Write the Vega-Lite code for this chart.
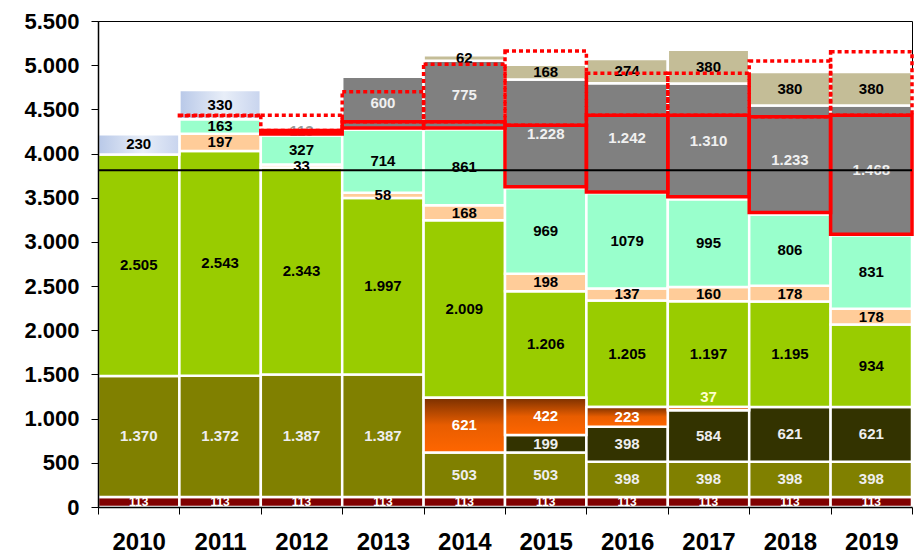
{
  "$schema": "https://vega.github.io/schema/vega-lite/v6.json",
  "width": 814,
  "height": 486,
  "autosize": {"type": "none"},
  "padding": {"left": 98, "top": 21, "right": 6, "bottom": 47},
  "background": "white",
  "config": {"view": {"stroke": "#000000", "strokeWidth": 1}, "font": "Liberation Sans"},
  "datasets": {
    "seg": [
      {"year": "2010", "series": "s01", "value": 113, "label": "113"},
      {"year": "2010", "series": "s02", "value": 1370, "label": "1.370"},
      {"year": "2010", "series": "s05", "value": 2505, "label": "2.505"},
      {"year": "2010", "series": "s08", "value": 230, "label": "230"},
      {"year": "2011", "series": "s01", "value": 113, "label": "113"},
      {"year": "2011", "series": "s02", "value": 1372, "label": "1.372"},
      {"year": "2011", "series": "s05", "value": 2543, "label": "2.543"},
      {"year": "2011", "series": "s06", "value": 197, "label": "197"},
      {"year": "2011", "series": "s07", "value": 163, "label": "163"},
      {"year": "2011", "series": "s08", "value": 330, "label": "330"},
      {"year": "2012", "series": "s01", "value": 113, "label": "113"},
      {"year": "2012", "series": "s02", "value": 1387, "label": "1.387"},
      {"year": "2012", "series": "s05", "value": 2343, "label": "2.343"},
      {"year": "2012", "series": "s06", "value": 33, "label": "33"},
      {"year": "2012", "series": "s07", "value": 327, "label": "327"},
      {"year": "2012", "series": "s09", "value": 113, "label": "113"},
      {"year": "2013", "series": "s01", "value": 113, "label": "113"},
      {"year": "2013", "series": "s02", "value": 1387, "label": "1.387"},
      {"year": "2013", "series": "s05", "value": 1997, "label": "1.997"},
      {"year": "2013", "series": "s06", "value": 58, "label": "58"},
      {"year": "2013", "series": "s07", "value": 714, "label": "714"},
      {"year": "2013", "series": "s10", "value": 600, "label": "600"},
      {"year": "2014", "series": "s01", "value": 113, "label": "113"},
      {"year": "2014", "series": "s02", "value": 503, "label": "503"},
      {"year": "2014", "series": "s04", "value": 621, "label": "621"},
      {"year": "2014", "series": "s05", "value": 2009, "label": "2.009"},
      {"year": "2014", "series": "s06", "value": 168, "label": "168"},
      {"year": "2014", "series": "s07", "value": 861, "label": "861"},
      {"year": "2014", "series": "s10", "value": 775, "label": "775"},
      {"year": "2014", "series": "s11", "value": 62, "label": "62"},
      {"year": "2015", "series": "s01", "value": 113, "label": "113"},
      {"year": "2015", "series": "s02", "value": 503, "label": "503"},
      {"year": "2015", "series": "s03", "value": 199, "label": "199"},
      {"year": "2015", "series": "s04", "value": 422, "label": "422"},
      {"year": "2015", "series": "s05", "value": 1206, "label": "1.206"},
      {"year": "2015", "series": "s06", "value": 198, "label": "198"},
      {"year": "2015", "series": "s07", "value": 969, "label": "969"},
      {"year": "2015", "series": "s10", "value": 1228, "label": "1.228"},
      {"year": "2015", "series": "s11", "value": 168, "label": "168"},
      {"year": "2016", "series": "s01", "value": 113, "label": "113"},
      {"year": "2016", "series": "s02", "value": 398, "label": "398"},
      {"year": "2016", "series": "s03", "value": 398, "label": "398"},
      {"year": "2016", "series": "s04", "value": 223, "label": "223"},
      {"year": "2016", "series": "s05", "value": 1205, "label": "1.205"},
      {"year": "2016", "series": "s06", "value": 137, "label": "137"},
      {"year": "2016", "series": "s07", "value": 1079, "label": "1079"},
      {"year": "2016", "series": "s10", "value": 1242, "label": "1.242"},
      {"year": "2016", "series": "s11", "value": 274, "label": "274"},
      {"year": "2017", "series": "s01", "value": 113, "label": "113"},
      {"year": "2017", "series": "s02", "value": 398, "label": "398"},
      {"year": "2017", "series": "s03", "value": 584, "label": "584"},
      {"year": "2017", "series": "s04", "value": 37, "label": "37"},
      {"year": "2017", "series": "s05", "value": 1197, "label": "1.197"},
      {"year": "2017", "series": "s06", "value": 160, "label": "160"},
      {"year": "2017", "series": "s07", "value": 995, "label": "995"},
      {"year": "2017", "series": "s10", "value": 1310, "label": "1.310"},
      {"year": "2017", "series": "s11", "value": 380, "label": "380"},
      {"year": "2018", "series": "s01", "value": 113, "label": "113"},
      {"year": "2018", "series": "s02", "value": 398, "label": "398"},
      {"year": "2018", "series": "s03", "value": 621, "label": "621"},
      {"year": "2018", "series": "s05", "value": 1195, "label": "1.195"},
      {"year": "2018", "series": "s06", "value": 178, "label": "178"},
      {"year": "2018", "series": "s07", "value": 806, "label": "806"},
      {"year": "2018", "series": "s10", "value": 1233, "label": "1.233"},
      {"year": "2018", "series": "s11", "value": 380, "label": "380"},
      {"year": "2019", "series": "s01", "value": 113, "label": "113"},
      {"year": "2019", "series": "s02", "value": 398, "label": "398"},
      {"year": "2019", "series": "s03", "value": 621, "label": "621"},
      {"year": "2019", "series": "s05", "value": 934, "label": "934"},
      {"year": "2019", "series": "s06", "value": 178, "label": "178"},
      {"year": "2019", "series": "s07", "value": 831, "label": "831"},
      {"year": "2019", "series": "s10", "value": 1468, "label": "1.468"},
      {"year": "2019", "series": "s11", "value": 380, "label": "380"}
    ],
    "box": [
      {"year": "2011", "kind": "dotted", "lo": 4428, "hi": 4433},
      {"year": "2012", "kind": "dotted", "lo": 4262, "hi": 4433},
      {"year": "2013", "kind": "dotted", "lo": 4360, "hi": 4700},
      {"year": "2014", "kind": "dotted", "lo": 4360, "hi": 5010},
      {"year": "2015", "kind": "dotted", "lo": 4320, "hi": 5160},
      {"year": "2016", "kind": "dotted", "lo": 4433, "hi": 4908},
      {"year": "2017", "kind": "dotted", "lo": 4433, "hi": 4908},
      {"year": "2018", "kind": "dotted", "lo": 4417, "hi": 5047},
      {"year": "2019", "kind": "dotted", "lo": 4433, "hi": 5153},
      {"year": "2012", "kind": "solid", "lo": 4222, "hi": 4262},
      {"year": "2013", "kind": "solid", "lo": 4290, "hi": 4360},
      {"year": "2014", "kind": "solid", "lo": 4290, "hi": 4360},
      {"year": "2015", "kind": "solid", "lo": 3625, "hi": 4320},
      {"year": "2016", "kind": "solid", "lo": 3565, "hi": 4433},
      {"year": "2017", "kind": "solid", "lo": 3512, "hi": 4433},
      {"year": "2018", "kind": "solid", "lo": 3333, "hi": 4417},
      {"year": "2019", "kind": "solid", "lo": 3087, "hi": 4433}
    ],
    "ref": [{"level": 3810, "year": "2010"}]
  },
  "encoding": {
    "x": {
      "field": "year", "type": "ordinal",
      "scale": {"paddingInner": 0, "paddingOuter": 0},
      "axis": {
        "orient": "bottom", "zindex": 1, "tickBand": "extent", "title": null, "grid": false,
        "labelAngle": 0, "labelFont": "Liberation Sans", "labelFontWeight": "bold", "labelFontSize": 24,
        "labelColor": "#000000", "labelPadding": 16,
        "domainColor": "#000000", "domainWidth": 1.5, "tickColor": "#000000", "tickSize": 7, "tickWidth": 1
      }
    }
  },
  "layer": [
    {
      "data": {"name": "seg"},
      "transform": [
        {"stack": "value", "groupby": ["year"], "sort": [{"field": "series", "order": "ascending"}], "as": ["y0", "y1"]},
        {"calculate": "(datum.y0 + datum.y1) / 2", "as": "mid"}
      ],
      "layer": [
        {
          "transform": [{"filter": "datum.series != 's04' && datum.series != 's08'"}],
          "mark": {"type": "bar", "stroke": "#ffffff", "strokeWidth": 2.5},
          "encoding": {
            "y": {
              "field": "y0", "type": "quantitative",
              "scale": {"domain": [0, 5500], "nice": false},
              "axis": {
                "orient": "right", "grid": true, "gridColor": "#cccccc", "gridWidth": 1,
                "labels": false, "ticks": false, "domain": false, "title": null,
                "values": [500, 1000, 1500, 2000, 2500, 3000, 3500, 4000, 4500, 5000]
              }
            },
            "y2": {"field": "y1"},
            "fill": {
              "field": "series", "type": "nominal", "legend": null,
              "scale": {
                "domain": ["s01", "s02", "s03", "s05", "s06", "s07", "s09", "s10", "s11"],
                "range": ["#800000", "#808000", "#333300", "#99cc00", "#ffcc99", "#99ffcc", "#ffffff", "#808080", "#c4bd97"]
              }
            }
          }
        },
        {
          "transform": [{"filter": "datum.series == 's04'"}],
          "mark": {
            "type": "bar", "stroke": "#ffffff", "strokeWidth": 2.5,
            "fill": {"gradient": "linear", "x1": 0, "y1": 0, "x2": 0, "y2": 1,
              "stops": [{"offset": 0, "color": "#7a3000"}, {"offset": 0.5, "color": "#e85d00"}, {"offset": 1, "color": "#ff6600"}]}
          },
          "encoding": {
            "y": {"field": "y0", "type": "quantitative", "axis": null},
            "y2": {"field": "y1"}
          }
        },
        {
          "transform": [{"filter": "datum.series == 's08'"}],
          "mark": {
            "type": "bar", "stroke": "#ffffff", "strokeWidth": 2.5,
            "fill": {"gradient": "linear", "x1": 0, "y1": 0, "x2": 1, "y2": 0,
              "stops": [{"offset": 0, "color": "#b8c8e8"}, {"offset": 0.55, "color": "#e8eef8"}, {"offset": 1, "color": "#c8d4ee"}]}
          },
          "encoding": {
            "y": {"field": "y0", "type": "quantitative", "axis": null},
            "y2": {"field": "y1"}
          }
        },
        {
          "transform": [{"filter": "datum.series != 's01' && !(datum.series == 's04' && datum.value < 50)"}],
          "mark": {"type": "text", "font": "Liberation Sans", "fontWeight": "bold", "fontSize": 15, "baseline": "middle"},
          "encoding": {
            "y": {"field": "mid", "type": "quantitative", "axis": null},
            "text": {"field": "label"},
            "color": {
              "field": "series", "type": "nominal", "legend": null,
              "scale": {
                "domain": ["s02", "s03", "s04", "s05", "s06", "s07", "s08", "s09", "s10", "s11"],
                "range": ["#eeeeee", "#eeeeee", "#ffffff", "#000000", "#000000", "#000000", "#000000", "#9a9a9a", "#f0f0f0", "#000000"]
              }
            }
          }
        },
        {
          "transform": [{"filter": "datum.series == 's01'"}],
          "mark": {"type": "text", "font": "Liberation Sans", "fontWeight": "bold", "fontSize": 12, "baseline": "middle", "color": "#ffffff"},
          "encoding": {
            "y": {"field": "mid", "type": "quantitative", "axis": null},
            "text": {"field": "label"}
          }
        },
        {
          "transform": [{"filter": "datum.series == 's04' && datum.value < 50"}],
          "mark": {"type": "text", "font": "Liberation Sans", "fontWeight": "bold", "fontSize": 15, "baseline": "middle", "dy": -12, "color": "#ffffcc"},
          "encoding": {
            "y": {"field": "mid", "type": "quantitative", "axis": null},
            "text": {"field": "label"}
          }
        }
      ]
    },
    {
      "data": {"name": "box"},
      "transform": [{"filter": "datum.kind == 'dotted'"}],
      "mark": {"type": "bar", "fillOpacity": 0, "stroke": "#ff0000", "strokeWidth": 3.5, "strokeDash": [4, 3]},
      "encoding": {
        "y": {"field": "lo", "type": "quantitative", "axis": null},
        "y2": {"field": "hi"}
      }
    },
    {
      "data": {"name": "box"},
      "transform": [{"filter": "datum.kind == 'solid'"}],
      "mark": {"type": "bar", "fillOpacity": 0, "stroke": "#ff0000", "strokeWidth": 3.5},
      "encoding": {
        "y": {"field": "lo", "type": "quantitative", "axis": null},
        "y2": {"field": "hi"}
      }
    },
    {
      "data": {"name": "ref"},
      "mark": {"type": "rule", "color": "#000000", "strokeWidth": 2},
      "encoding": {
        "x": null,
        "y": {
          "field": "level", "type": "quantitative",
          "scale": {"domain": [0, 5500], "nice": false},
          "axis": {
            "orient": "left", "zindex": 1, "grid": false, "title": null, "labelOverlap": false,
            "values": [0, 500, 1000, 1500, 2000, 2500, 3000, 3500, 4000, 4500, 5000, 5500],
            "labelExpr": "replace(format(datum.value, ',d'), ',', '.')",
            "labelFont": "Liberation Sans", "labelFontWeight": "bold", "labelFontSize": 22,
            "labelColor": "#000000", "labelPadding": 12,
            "domainColor": "#000000", "domainWidth": 1.5, "tickColor": "#000000", "tickSize": 7, "tickWidth": 1
          }
        }
      }
    }
  ],
  "resolve": {"axis": {"y": "independent"}}
}
